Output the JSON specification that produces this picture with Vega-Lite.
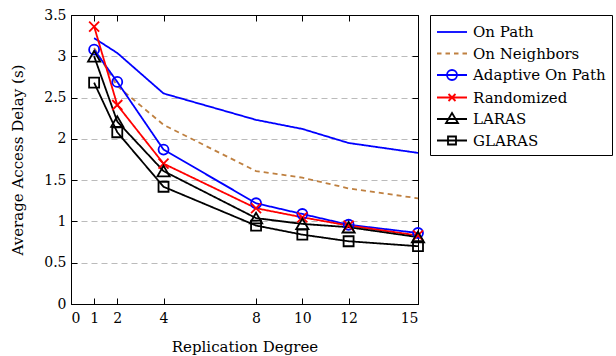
{
  "$schema": "https://vega.github.io/schema/vega-lite/v6.json",
  "width": 347,
  "height": 289,
  "autosize": {"type": "none"},
  "padding": {"left": 71, "top": 15, "right": 198, "bottom": 52},
  "background": "white",
  "config": {
    "view": {"stroke": "black", "strokeWidth": 1},
    "font": "DejaVu Serif",
    "axis": {
      "labelFont": "DejaVu Serif",
      "labelFontSize": 14,
      "labelColor": "black",
      "titleFont": "DejaVu Serif",
      "titleFontSize": 15,
      "titleFontWeight": "normal",
      "titleColor": "black",
      "domainColor": "black",
      "tickColor": "black",
      "grid": false
    },
    "legend": {
      "labelFont": "DejaVu Serif",
      "labelFontSize": 15,
      "labelColor": "black"
    }
  },
  "data": {
    "values": [
      {"x": 1, "y": 3.22, "series": "On Path"},
      {"x": 2, "y": 3.04, "series": "On Path"},
      {"x": 4, "y": 2.55, "series": "On Path"},
      {"x": 8, "y": 2.23, "series": "On Path"},
      {"x": 10, "y": 2.12, "series": "On Path"},
      {"x": 12, "y": 1.95, "series": "On Path"},
      {"x": 15, "y": 1.83, "series": "On Path"},
      {"x": 1, "y": 3.1, "series": "On Neighbors"},
      {"x": 2, "y": 2.64, "series": "On Neighbors"},
      {"x": 4, "y": 2.17, "series": "On Neighbors"},
      {"x": 8, "y": 1.61, "series": "On Neighbors"},
      {"x": 10, "y": 1.53, "series": "On Neighbors"},
      {"x": 12, "y": 1.4, "series": "On Neighbors"},
      {"x": 15, "y": 1.28, "series": "On Neighbors"},
      {"x": 1, "y": 3.08, "series": "Adaptive On Path"},
      {"x": 2, "y": 2.69, "series": "Adaptive On Path"},
      {"x": 4, "y": 1.87, "series": "Adaptive On Path"},
      {"x": 8, "y": 1.22, "series": "Adaptive On Path"},
      {"x": 10, "y": 1.09, "series": "Adaptive On Path"},
      {"x": 12, "y": 0.96, "series": "Adaptive On Path"},
      {"x": 15, "y": 0.86, "series": "Adaptive On Path"},
      {"x": 1, "y": 3.36, "series": "Randomized"},
      {"x": 2, "y": 2.41, "series": "Randomized"},
      {"x": 4, "y": 1.7, "series": "Randomized"},
      {"x": 8, "y": 1.16, "series": "Randomized"},
      {"x": 10, "y": 1.05, "series": "Randomized"},
      {"x": 12, "y": 0.95, "series": "Randomized"},
      {"x": 15, "y": 0.83, "series": "Randomized"},
      {"x": 1, "y": 3.0, "series": "LARAS"},
      {"x": 2, "y": 2.21, "series": "LARAS"},
      {"x": 4, "y": 1.61, "series": "LARAS"},
      {"x": 8, "y": 1.04, "series": "LARAS"},
      {"x": 10, "y": 0.97, "series": "LARAS"},
      {"x": 12, "y": 0.93, "series": "LARAS"},
      {"x": 15, "y": 0.81, "series": "LARAS"},
      {"x": 1, "y": 2.68, "series": "GLARAS"},
      {"x": 2, "y": 2.08, "series": "GLARAS"},
      {"x": 4, "y": 1.42, "series": "GLARAS"},
      {"x": 8, "y": 0.95, "series": "GLARAS"},
      {"x": 10, "y": 0.84, "series": "GLARAS"},
      {"x": 12, "y": 0.76, "series": "GLARAS"},
      {"x": 15, "y": 0.7, "series": "GLARAS"}
    ]
  },
  "resolve": {
    "axis": {"x": "independent", "y": "independent"},
    "scale": {"color": "independent", "shape": "independent"}
  },
  "layer": [
    {
      "mark": {"type": "line", "strokeWidth": 1.8},
      "encoding": {
        "x": {"field": "x", "type": "quantitative", "scale": {"domain": [0, 15], "nice": false},
          "axis": {"values": [0, 1, 2, 4, 8, 10, 12, 15], "title": "Replication Degree", "tickSize": -6, "labelPadding": 13, "titlePadding": 14}},
        "y": {"field": "y", "type": "quantitative", "scale": {"domain": [0, 3.5], "nice": false},
          "axis": {"values": [0, 0.5, 1, 1.5, 2, 2.5, 3, 3.5], "format": "~g", "title": "Average Access Delay (s)", "tickSize": -6, "labelPadding": 11, "titlePadding": 18,
            "grid": true, "gridColor": "#bbbbbb", "gridDash": [6, 4], "gridWidth": 1}},
        "color": {"field": "series", "type": "nominal", "legend": null,
          "scale": {"domain": ["GLARAS", "LARAS", "Randomized", "Adaptive On Path", "On Neighbors", "On Path"],
            "range": ["#000000", "#000000", "#ff0000", "#0000ff", "#bf8040", "#0000ff"]}},
        "strokeDash": {"field": "series", "type": "nominal", "legend": null,
          "scale": {"domain": ["On Neighbors", "On Path", "Adaptive On Path", "Randomized", "LARAS", "GLARAS"],
            "range": [[5, 4], [1, 0], [1, 0], [1, 0], [1, 0], [1, 0]]}}
      }
    },
    {
      "transform": [{"filter": "datum.series === 'Adaptive On Path'"}],
      "mark": {"type": "point", "shape": "circle", "filled": false, "size": 100, "strokeWidth": 1.8, "opacity": 1, "color": "#0000ff"},
      "encoding": {
        "x": {"field": "x", "type": "quantitative", "axis": null},
        "y": {"field": "y", "type": "quantitative", "axis": null}
      }
    },
    {
      "transform": [{"filter": "datum.series === 'Randomized'"}],
      "mark": {"type": "point", "shape": "M-1,-1L1,1M-1,1L1,-1", "filled": false, "size": 100, "strokeWidth": 1.8, "opacity": 1, "color": "#ff0000"},
      "encoding": {
        "x": {"field": "x", "type": "quantitative", "axis": null},
        "y": {"field": "y", "type": "quantitative", "axis": null}
      }
    },
    {
      "transform": [{"filter": "datum.series === 'LARAS'"}],
      "mark": {"type": "point", "shape": "triangle-up", "filled": false, "size": 150, "strokeWidth": 1.8, "opacity": 1, "color": "#000000"},
      "encoding": {
        "x": {"field": "x", "type": "quantitative", "axis": null},
        "y": {"field": "y", "type": "quantitative", "axis": null}
      }
    },
    {
      "transform": [{"filter": "datum.series === 'GLARAS'"}],
      "mark": {"type": "point", "shape": "square", "filled": false, "size": 100, "strokeWidth": 1.8, "opacity": 1, "color": "#000000"},
      "encoding": {
        "x": {"field": "x", "type": "quantitative", "axis": null},
        "y": {"field": "y", "type": "quantitative", "axis": null}
      }
    },
    {
      "mark": {"type": "point", "filled": false, "size": 1, "opacity": 0},
      "encoding": {
        "x": {"field": "x", "type": "quantitative",
          "axis": {"orient": "top", "values": [0, 1, 2, 4, 8, 10, 12, 15], "labels": false, "title": null, "tickSize": -6}},
        "y": {"field": "y", "type": "quantitative",
          "axis": {"orient": "right", "values": [0, 0.5, 1, 1.5, 2, 2.5, 3, 3.5], "labels": false, "title": null, "tickSize": -6}}
      }
    },
    {
      "mark": {"type": "point", "filled": false, "strokeWidth": 1.8, "size": 1, "opacity": 0},
      "encoding": {
        "x": {"field": "x", "type": "quantitative", "axis": null},
        "y": {"field": "y", "type": "quantitative", "axis": null},
        "color": {"field": "series", "type": "nominal",
          "legend": {"title": null, "orient": "none", "legendX": 359, "legendY": 0, "symbolSize": 400, "symbolStrokeWidth": 1.8,
            "strokeColor": "black", "fillColor": "white", "padding": 6, "rowPadding": 2.5, "labelOffset": 15, "symbolOpacity": 1,
            "labelFont": "DejaVu Serif", "labelFontSize": 15, "labelColor": "black",
            "encode": {"symbols": {"opacity": {"value": 1}}}},
          "scale": {"domain": ["On Path", "On Neighbors", "Adaptive On Path", "Randomized", "LARAS", "GLARAS"],
            "range": ["#0000ff", "#bf8040", "#0000ff", "#ff0000", "#000000", "#000000"]}},
        "shape": {"field": "series", "type": "nominal",
          "legend": {"title": null, "orient": "none", "legendX": 359, "legendY": 0, "symbolSize": 400, "symbolStrokeWidth": 1.8,
            "strokeColor": "black", "fillColor": "white", "padding": 6, "rowPadding": 2.5, "labelOffset": 15, "symbolOpacity": 1,
            "labelFont": "DejaVu Serif", "labelFontSize": 15, "labelColor": "black",
            "encode": {"symbols": {"opacity": {"value": 1}}}},
          "scale": {"domain": ["On Path", "On Neighbors", "Adaptive On Path", "Randomized", "LARAS", "GLARAS"],
            "range": [
              "M-1,0H2",
              "M-1,0H-0.55M-0.15,0H0.3M0.7,0H1.15M1.55,0H2",
              "M-1,0H2M1,0A0.5,0.5 0 1 1 0,0A0.5,0.5 0 1 1 1,0",
              "M-1,0H2M0.15,-0.35L0.85,0.35M0.15,0.35L0.85,-0.35",
              "M-1,0H2M0.5,-0.6L1.1,0.4L-0.1,0.4Z",
              "M-1,0H2M0.1,-0.4H0.9V0.4H0.1Z"
            ]}}
      }
    }
  ]
}
